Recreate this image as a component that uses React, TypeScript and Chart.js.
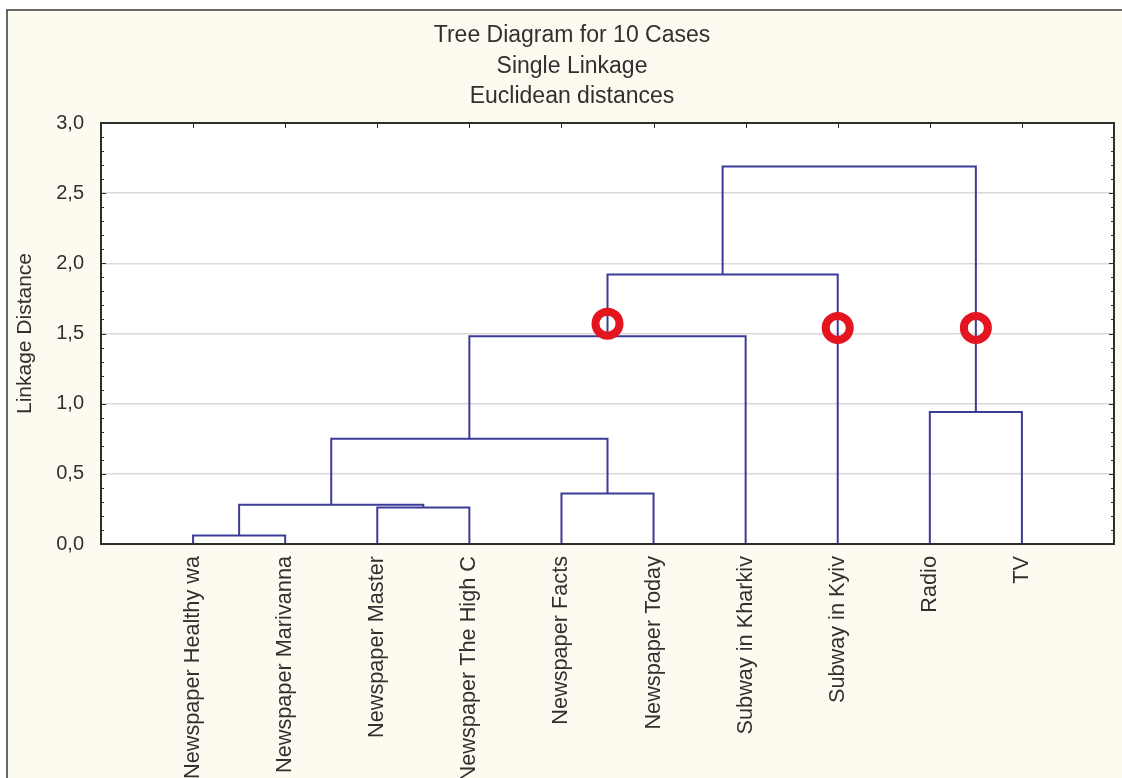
import React, { useEffect, useRef } from 'react';
import { Chart, registerables } from 'chart.js';

Chart.register(...registerables);

// Cases (leaves), in dendrogram order
const categories = [
  'Newspaper Healthy wa',
  'Newspaper Marivanna',
  'Newspaper Master',
  'Newspaper The High C',
  'Newspaper Facts',
  'Newspaper Today',
  'Subway in Kharkiv',
  'Subway in Kyiv',
  'Radio',
  'TV',
];
// Merge steps: node ids 0-9 are leaves, id 10+k is the cluster made at merge k
const mergeLeft = [0, 2, 10, 4, 12, 14, 15, 8, 16];
const mergeRight = [1, 3, 11, 5, 13, 6, 7, 9, 17];
const mergeHeight = [0.06, 0.26, 0.28, 0.36, 0.75, 1.48, 1.92, 0.94, 2.69];
// Y axis ticks
const yTicks = [0, 0.5, 1.0, 1.5, 2.0, 2.5, 3.0];
// Red hand-drawn markers: node they sit on and their height
const markNodes = [15, 7, 17];
const markHeight = [1.57, 1.54, 1.54];

const titleLines = ['Tree Diagram for 10 Cases', 'Single Linkage', 'Euclidean distances'];
const yTitle = 'Linkage Distance';

const W = 1122;
const H = 800;
const FONT = "'Liberation Sans', Arial, sans-serif";
const TEXT = '#303030';
const LINK = '#3c3c98';
const RED = '#e3161f';

const nodeX = (id: number): number =>
  id < categories.length ? id + 1 : (nodeX(mergeLeft[id - categories.length]) + nodeX(mergeRight[id - categories.length])) / 2;
const nodeH = (id: number): number => (id < categories.length ? 0 : mergeHeight[id - categories.length]);

const framePlugin = {
  id: 'frame',
  beforeDraw(chart: any) {
    const { ctx, chartArea } = chart;
    ctx.save();
    ctx.fillStyle = '#ffffff';
    ctx.fillRect(0, 0, W, H);
    ctx.fillStyle = '#fdfaf0';
    ctx.fillRect(7, 10, W - 7, H - 10);
    ctx.strokeStyle = '#3a3a3a';
    ctx.lineWidth = 1.5;
    ctx.beginPath();
    ctx.moveTo(7, H);
    ctx.lineTo(7, 10);
    ctx.lineTo(W, 10);
    ctx.stroke();
    ctx.fillStyle = '#ffffff';
    ctx.fillRect(chartArea.left, chartArea.top, chartArea.right - chartArea.left, chartArea.bottom - chartArea.top);
    ctx.restore();
  },
  afterDraw(chart: any) {
    const { ctx, chartArea, scales } = chart;
    const { left, right, top, bottom } = chartArea;
    ctx.save();
    ctx.strokeStyle = '#2a2a2a';
    ctx.lineWidth = 1;
    ctx.beginPath();
    categories.forEach((_, i) => {
      const x = Math.round(scales.x.getPixelForValue(i + 1)) + 0.5;
      ctx.moveTo(x, top);
      ctx.lineTo(x, top + 5);
    });
    for (let k = 0; k <= 30; k++) {
      const v = k / 10;
      const y = Math.round(scales.y.getPixelForValue(v)) + 0.5;
      const len = k % 5 === 0 ? 5 : 3;
      ctx.moveTo(left, y);
      ctx.lineTo(left + len, y);
      ctx.moveTo(right, y);
      ctx.lineTo(right - len, y);
    }
    ctx.stroke();
    ctx.lineWidth = 2;
    ctx.strokeStyle = '#2e2e2e';
    ctx.strokeRect(left, top, right - left, bottom - top);

    // chart title, three centred lines
    ctx.fillStyle = TEXT;
    ctx.font = `23px ${FONT}`;
    ctx.textAlign = 'center';
    ctx.textBaseline = 'middle';
    titleLines.forEach((t, i) => ctx.fillText(t, 572, 36 + i * 30.5));
    ctx.restore();
  },
};

export default function App() {
  const ref = useRef<HTMLCanvasElement | null>(null);

  useEffect(() => {
    if (!ref.current) return;
    const linkSets = mergeHeight.map((h, k) => {
      const l = mergeLeft[k];
      const r = mergeRight[k];
      return {
        type: 'scatter' as const,
        data: [
          { x: nodeX(l), y: nodeH(l) },
          { x: nodeX(l), y: h },
          { x: nodeX(r), y: h },
          { x: nodeX(r), y: nodeH(r) },
        ],
        showLine: true,
        borderColor: LINK,
        borderWidth: 2,
        pointRadius: 0,
        tension: 0,
        fill: false,
        order: 2,
      };
    });
    const marks = {
      type: 'scatter' as const,
      data: markNodes.map((n, i) => ({ x: nodeX(n), y: markHeight[i] })),
      showLine: false,
      pointStyle: 'circle',
      pointRadius: 12,
      borderWidth: 8,
      borderColor: RED,
      backgroundColor: 'rgba(0,0,0,0)',
      order: 0,
    };

    const chart = new Chart(ref.current, {
      type: 'scatter',
      data: { datasets: [marks, ...linkSets] as any },
      plugins: [framePlugin],
      options: {
        responsive: false,
        animation: false,
        events: [],
        layout: { autoPadding: false, padding: { left: 0, right: 8, top: 123, bottom: 0 } },
        plugins: {
          legend: { display: false },
          tooltip: { enabled: false },
          title: { display: false },
        },
        scales: {
          x: {
            type: 'linear',
            min: 0,
            max: categories.length + 1,
            afterBuildTicks: (s: any) => {
              s.ticks = categories.map((_, i) => ({ value: i + 1 }));
            },
            afterFit: (s: any) => {
              s.height = H - 544;
              s.paddingLeft = 0;
              s.paddingRight = 0;
            },
            ticks: {
              autoSkip: false,
              minRotation: 90,
              maxRotation: 90,
              padding: 12,
              color: TEXT,
              font: { family: FONT, size: 21.7 },
              callback: (v: any) => categories[Number(v) - 1] ?? '',
            },
            grid: { display: false, drawTicks: false },
            border: { display: false },
          },
          y: {
            type: 'linear',
            min: 0,
            max: 3,
            afterBuildTicks: (s: any) => {
              s.ticks = yTicks.map((v) => ({ value: v }));
            },
            afterFit: (s: any) => {
              s.width = 101;
              s.paddingTop = 0;
              s.paddingBottom = 0;
            },
            ticks: {
              padding: 17,
              color: TEXT,
              font: { family: FONT, size: 20 },
              callback: (v: any) => Number(v).toFixed(1).replace('.', ','),
            },
            grid: { color: '#d9d9d9', lineWidth: 1.5, drawTicks: false },
            border: { display: false },
            title: {
              display: true,
              text: yTitle,
              color: TEXT,
              font: { family: FONT, size: 21 },
              padding: { top: 13, bottom: 0 },
            },
          },
        },
      } as any,
    });
    return () => chart.destroy();
  }, []);

  return (
    <div
      style={{
        position: 'fixed',
        left: 0,
        top: 0,
        width: W,
        height: 778,
        overflow: 'hidden',
        background: '#ffffff',
      }}
    >
      <canvas ref={ref} width={W} height={H} style={{ display: 'block', width: W, height: H }} />
    </div>
  );
}
